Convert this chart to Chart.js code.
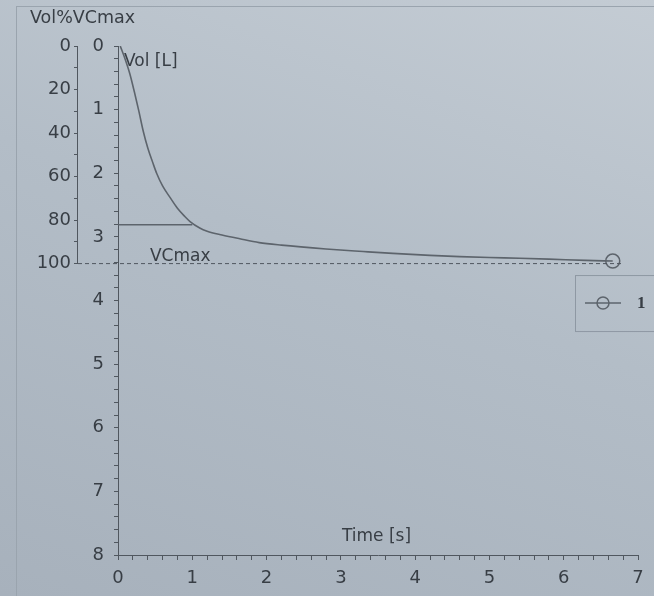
<!DOCTYPE html>
<html>
<head>
<meta charset="utf-8">
<script src="https://cdn.jsdelivr.net/npm/chart.js@4/dist/chart.umd.min.js"></script>
<style>
  html, body { margin: 0; padding: 0; }
  body {
    width: 654px; height: 596px; overflow: hidden;
    background: linear-gradient(200deg, #c4ccd4 0%, #b3bdc7 45%, #a7b1bc 100%);
  }
  #wrap { position: relative; width: 654px; height: 596px; }
  #frame {
    position: absolute; left: 16px; top: 6px; right: -4px; bottom: -4px;
    border-left: 1px solid #9aa4ae; border-top: 1px solid #9aa4ae;
  }
  canvas { position: absolute; left: 0; top: 0; }
</style>
</head>
<body>
<div id="wrap">
  <div id="frame"></div>
  <canvas id="chart" width="654" height="596"></canvas>
</div>
<script>
// volume-time curve (time in s, volume in L)
const timeS = [0.03, 0.1, 0.16, 0.22, 0.28, 0.34, 0.4, 0.47, 0.52, 0.6, 0.7, 0.8, 0.9, 0.97, 1.1, 1.2, 1.4, 1.64, 1.9, 2.2, 2.8, 3.3, 3.7, 4.2, 4.6, 5.2, 5.8, 6.3, 6.66]
const volL = [0.0, 0.22, 0.44, 0.72, 1.02, 1.34, 1.6, 1.84, 2.0, 2.2, 2.38, 2.55, 2.68, 2.76, 2.86, 2.91, 2.97, 3.03, 3.09, 3.13, 3.19, 3.23, 3.26, 3.29, 3.31, 3.33, 3.35, 3.37, 3.38]

// FEV1 marker line
const fev1Time = [0, 1]
const fev1Vol = 2.81

// max vital capacity
const vcMax = 3.42

const xTicks = [0, 1, 2, 3, 4, 5, 6, 7]
const volTicks = [0, 1, 2, 3, 4, 5, 6, 7, 8]
const pctTicks = [0, 20, 40, 60, 80, 100]

const ink = '#383e45'
const axisCol = '#50575f'
const curveCol = '#5d646c'
const font = { family: 'DejaVu Sans', size: 18 }

const isWhole = (v, list) => list.some(t => Math.abs(t - v) < 1e-6)

const curve = timeS.map((t, i) => ({ x: t, y: volL[i] }))
const fev1 = fev1Time.map(t => ({ x: t, y: fev1Vol }))

const overlay = {
    id: 'overlay',
    afterDraw (chart) {
        const { ctx, chartArea, scales } = chart
        const x = scales.x, vol = scales.vol, pct = scales.pct
        ctx.save()
        // percent axis line only down to 100 %
        ctx.strokeStyle = axisCol
        ctx.lineWidth = 1
        ctx.beginPath()
        ctx.moveTo(pct.right - 0.5, pct.getPixelForValue(0))
        ctx.lineTo(pct.right - 0.5, pct.getPixelForValue(100))
        ctx.stroke()

        // VCmax dashed reference
        const yv = vol.getPixelForValue(vcMax)
        ctx.setLineDash([4, 3])
        ctx.beginPath()
        ctx.moveTo(pct.right, yv)
        ctx.lineTo(x.getPixelForValue(timeS[timeS.length - 1]) + 10, yv)
        ctx.stroke()
        ctx.setLineDash([])

        ctx.fillStyle = ink
        ctx.font = '17px "DejaVu Sans"'
        ctx.textBaseline = 'middle'
        ctx.textAlign = 'left'
        ctx.fillText('VCmax', x.getPixelForValue(0.43), yv - 7)
        ctx.fillText('Vol [L]', chartArea.left + 6, vol.getPixelForValue(0.25))
        ctx.textAlign = 'center'
        ctx.fillText('Time [s]', x.getPixelForValue(3.48), chartArea.bottom - 18)
        ctx.textAlign = 'left'
        ctx.font = '17.5px "DejaVu Sans"'
        ctx.fillText('Vol%VCmax', pct.left + 12, chartArea.top - 28)

        // legend box
        const lx = chartArea.right - 63, ly = vol.getPixelForValue(3.6)
        ctx.strokeStyle = '#8e98a3'
        ctx.strokeRect(lx + 0.5, ly + 0.5, 120, 56)
        const sy = ly + 28
        ctx.strokeStyle = curveCol
        ctx.lineWidth = 1.5
        ctx.beginPath()
        ctx.moveTo(lx + 10, sy)
        ctx.lineTo(lx + 46, sy)
        ctx.stroke()
        ctx.beginPath()
        ctx.arc(lx + 28, sy, 6, 0, Math.PI * 2)
        ctx.stroke()
        ctx.fillStyle = ink
        ctx.font = 'bold 17px "Liberation Serif"'
        ctx.fillText('1', lx + 62, sy + 1)
        ctx.restore()
    }
}

const ctx = document.getElementById('chart').getContext('2d')
new Chart(ctx, {
    type: 'line',
    data: {
        datasets: [
            {
                data: curve,
                borderColor: curveCol,
                borderWidth: 1.6,
                cubicInterpolationMode: 'monotone',
                pointRadius: curve.map((p, i) => i === curve.length - 1 ? 7 : 0),
                pointBorderColor: curveCol,
                pointBackgroundColor: 'rgba(0,0,0,0)',
                pointBorderWidth: 1.5,
                yAxisID: 'vol'
            },
            {
                data: fev1,
                borderColor: curveCol,
                borderWidth: 1.5,
                pointRadius: 0,
                yAxisID: 'vol'
            }
        ]
    },
    plugins: [overlay],
    options: {
        animation: false,
        responsive: false,
        layout: { padding: { top: 46, left: 18, right: 16, bottom: 0 } },
        plugins: { legend: { display: false }, tooltip: { enabled: false } },
        scales: {
            x: {
                type: 'linear',
                min: 0,
                max: 7,
                border: { color: axisCol },
                grid: { drawOnChartArea: false, tickLength: 5, color: axisCol },
                ticks: {
                    stepSize: 0.2, autoSkip: false, maxRotation: 0, padding: 8,
                    color: ink, font,
                    callback: v => isWhole(v, xTicks) ? Math.round(v) : ''
                },
                afterFit: s => { s.height = 41 }
            },
            vol: {
                type: 'linear',
                position: 'left',
                reverse: true,
                min: 0,
                max: 8,
                weight: 0,
                border: { color: axisCol },
                grid: { drawOnChartArea: false, tickLength: 4, color: axisCol },
                ticks: {
                    stepSize: 0.2, autoSkip: false, padding: 10,
                    color: ink, font,
                    callback: v => isWhole(v, volTicks) ? Math.round(v) : ''
                },
                afterFit: s => { s.width = 40 }
            },
            pct: {
                type: 'linear',
                position: 'left',
                reverse: true,
                min: 0,
                max: 800 / vcMax,
                weight: 1,
                border: { display: false },
                grid: { drawOnChartArea: false, tickLength: 4, color: axisCol },
                ticks: {
                    stepSize: 10, autoSkip: false, padding: 3,
                    color: ink, font,
                    callback: v => isWhole(v, pctTicks) ? Math.round(v) : ''
                },
                afterBuildTicks: s => { s.ticks = s.ticks.filter(t => t.value <= 100.001) },
                afterFit: s => { s.width = 60 }
            }
        }
    }
})
</script>
</body>
</html>
